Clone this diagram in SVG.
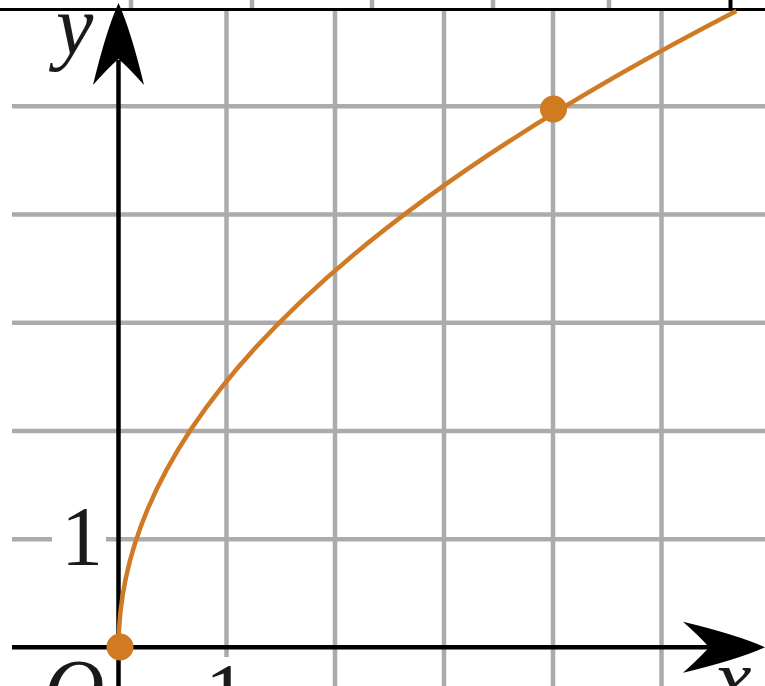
<svg xmlns="http://www.w3.org/2000/svg" width="765" height="686" viewBox="0 0 765 686">
<style>
.grid{stroke:#ababab;stroke-width:4.5;fill:none}
.axis{stroke:#000;stroke-width:4.5;fill:none}
.lbl{font-family:"Liberation Serif","Times New Roman",serif;font-size:84px;fill:#1a1a1a}
.it{font-style:italic}
.curve{stroke:#d07a25;stroke-width:4.5;fill:none}
.dot{fill:#d07a22}
</style>
<defs>
<path id="arrowhead" d="M0,0 Q12.5,28 25.5,82 Q9.5,64 0,56 Q-9.5,64 -25.5,82 Q-12.5,28 0,0Z" fill="#000"/>
</defs>
<rect width="765" height="686" fill="#fff"/>
<g id="upper-fragment">
<line x1="131" y1="0" x2="131" y2="9" class="grid"/>
<line x1="252" y1="0" x2="252" y2="9" class="grid"/>
<line x1="372" y1="0" x2="372" y2="9" class="grid"/>
<line x1="493" y1="0" x2="493" y2="9" class="grid"/>
<line x1="609" y1="0" x2="609" y2="9" class="grid"/>
<line x1="730.5" y1="0" x2="730.5" y2="10" stroke="#000" stroke-width="4"/>
<line x1="0" y1="9.5" x2="765" y2="9.5" stroke="#000" stroke-width="3"/>
</g>
<g id="grid">
<line x1="226.5" y1="11" x2="226.5" y2="657" class="grid"/>
<line x1="335" y1="11" x2="335" y2="686" class="grid"/>
<line x1="444" y1="11" x2="444" y2="686" class="grid"/>
<line x1="553" y1="11" x2="553" y2="686" class="grid"/>
<line x1="661.5" y1="11" x2="661.5" y2="686" class="grid"/>
<line x1="12" y1="106.3" x2="765" y2="106.3" class="grid"/>
<line x1="12" y1="214.5" x2="765" y2="214.5" class="grid"/>
<line x1="12" y1="322.7" x2="765" y2="322.7" class="grid"/>
<line x1="12" y1="430.9" x2="765" y2="430.9" class="grid"/>
<line x1="12" y1="539.2" x2="52" y2="539.2" class="grid"/>
<line x1="106" y1="539.2" x2="765" y2="539.2" class="grid"/>
</g>
<g id="connectors">
<g id="y-axis">
<line x1="118.5" y1="686" x2="118.5" y2="60" class="axis"/>
<use href="#arrowhead" transform="translate(118.5,3)"/>
</g>
<g id="x-axis">
<line x1="12" y1="647.3" x2="720" y2="647.3" class="axis"/>
<use href="#arrowhead" transform="translate(765,647.3) rotate(90)"/>
</g>
<path id="curve" class="curve" d="M118.5,647.3 Q118.5,329.15 736.3,11"/>
</g>
<g id="point-origin"><circle cx="120" cy="647" r="13.5" class="dot"/></g>
<g id="point-4-5"><circle cx="553.5" cy="109" r="13.5" class="dot"/></g>
<g id="labels">
<text x="56" y="54" class="lbl it">y</text>
<text x="82" y="565" class="lbl" text-anchor="middle">1</text>
<text x="74" y="718" class="lbl it" text-anchor="middle">O</text>
<text x="226" y="722" class="lbl" text-anchor="middle">1</text>
<text x="733" y="707" class="lbl it" text-anchor="middle">x</text>
</g>
</svg>
